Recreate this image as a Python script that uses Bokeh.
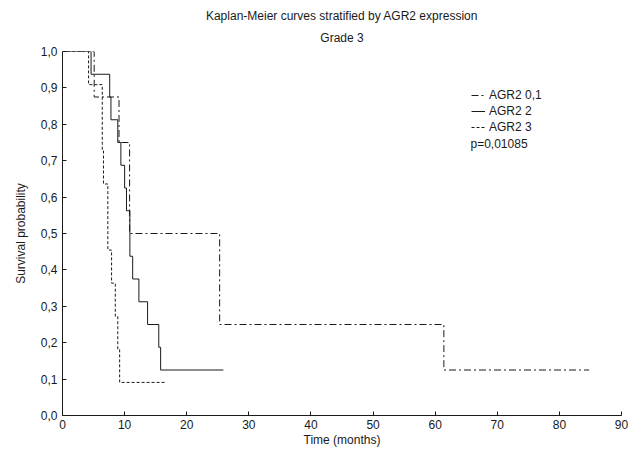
from bokeh.plotting import figure
from bokeh.models import Legend, LegendItem, Label, Title, FixedTicker
from bokeh.embed import file_html
from bokeh.resources import INLINE

# Data (Kaplan-Meier step curves)
t_agr01 = [0, 5.1, 9.1, 10.8, 25.3, 61.4, 84.8]
s_agr01 = [1.0, 0.875, 0.75, 0.5, 0.25, 0.125, 0.125]

t_agr2 = [0, 4.6, 7.6, 7.8, 8.9, 9.4, 10.0, 10.3, 10.85, 11.3, 12.3, 13.7, 15.5, 15.8, 25.9]
s_agr2 = [1.0, 0.9375, 0.875, 0.8125, 0.75, 0.6875, 0.625, 0.5625, 0.4375, 0.375, 0.3125, 0.25, 0.1875, 0.125, 0.125]

t_agr3 = [0, 4.2, 6.4, 6.6, 7.3, 7.9, 8.5, 8.9, 9.2, 16.6]
s_agr3 = [1.0, 0.909, 0.727, 0.636, 0.4545, 0.3636, 0.2727, 0.1818, 0.0909, 0.0909]

x_ticks = [0, 10, 20, 30, 40, 50, 60, 70, 80, 90]
y_ticks = [0.0, 0.1, 0.2, 0.3, 0.4, 0.5, 0.6, 0.7, 0.8, 0.9, 1.0]
y_tick_labels = ["0,0", "0,1", "0,2", "0,3", "0,4", "0,5", "0,6", "0,7", "0,8", "0,9", "1,0"]
series_names = ["AGR2 0,1", "AGR2 2", "AGR2 3"]
title_lines = ["Kaplan-Meier curves stratified by AGR2 expression", "Grade 3"]
p_text = "p=0,01085"

FONT = "Liberation Sans"
INK = "#1a1a1a"

p = figure(width=628, height=451, output_backend="svg", toolbar_location=None,
           x_range=(0, 90), y_range=(0, 1.0),
           min_border_left=62, min_border_right=7, min_border_top=51, min_border_bottom=36)
p.outline_line_color = None
p.xgrid.visible = False
p.ygrid.visible = False
p.background_fill_color = "white"

sub = Title(text=title_lines[1], align="center", text_font=FONT, text_font_size="12px",
            text_font_style="normal", text_color=INK, standoff=13, text_line_height=1.0)
main = Title(text=title_lines[0], align="center", text_font=FONT, text_font_size="12px",
             text_font_style="normal", text_color=INK, standoff=0, text_line_height=1.0)
p.add_layout(sub, "above")
p.add_layout(main, "above")

for ax in (p.xaxis[0], p.yaxis[0]):
    ax.axis_line_color = INK
    ax.major_tick_line_color = INK
    ax.major_tick_in = 4
    ax.major_tick_out = 0
    ax.minor_tick_line_color = None
    ax.major_label_text_font = FONT
    ax.major_label_text_font_size = "12px"
    ax.major_label_text_color = INK
    ax.axis_label_text_font = FONT
    ax.axis_label_text_font_size = "12px"
    ax.axis_label_text_font_style = "normal"
    ax.axis_label_text_color = INK

p.xaxis.ticker = FixedTicker(ticks=x_ticks)
p.yaxis.ticker = FixedTicker(ticks=y_ticks)
p.yaxis.major_label_overrides = {t: l for t, l in zip(y_ticks, y_tick_labels)}
p.xaxis.axis_label = "Time (months)"
p.yaxis.axis_label = "Survival probability"
p.xaxis.major_label_standoff = 4
p.xaxis.axis_label_standoff = 1
p.yaxis.major_label_standoff = 5
p.yaxis.axis_label_standoff = 10

r1 = p.step(t_agr01, s_agr01, mode="after", line_color=INK, line_width=1, line_dash="7 3 2 3")
r2 = p.step(t_agr2, s_agr2, mode="after", line_color=INK, line_width=1)
r3 = p.step(t_agr3, s_agr3, mode="after", line_color=INK, line_width=1, line_dash="3 2")

legend = Legend(items=[LegendItem(label=series_names[0], renderers=[r1]),
                       LegendItem(label=series_names[1], renderers=[r2]),
                       LegendItem(label=series_names[2], renderers=[r3])],
                location=(409, 280), orientation="vertical",
                border_line_color=None, background_fill_alpha=0,
                label_text_font=FONT, label_text_font_size="12px", label_text_color=INK,
                glyph_width=14, glyph_height=16, label_height=16, label_standoff=4,
                spacing=0, padding=0, margin=0)
p.add_layout(legend, "center")

p.add_layout(Label(x=408, y=279, x_units="screen", y_units="screen", text=p_text,
                   text_font=FONT, text_font_size="12px", text_color=INK,
                   text_baseline="top"))

open("out.html", "w").write(file_html(p, INLINE))
